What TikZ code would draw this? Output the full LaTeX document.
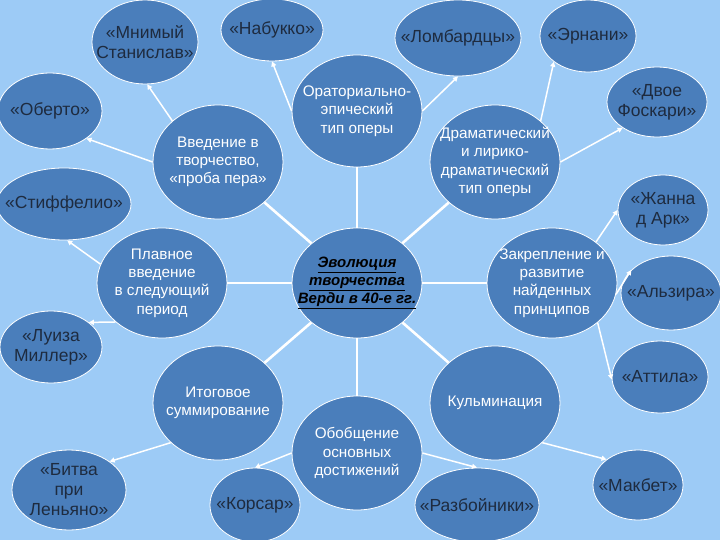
\documentclass[tikz,border=0pt]{standalone}
\usepackage{fontspec}
\setmainfont{Liberation Sans}
\usetikzlibrary{shapes.geometric,arrows.meta}
\definecolor{bg}{HTML}{9DCBF6}
\definecolor{ellfill}{HTML}{4A7EBB}
\definecolor{optxt}{HTML}{1E2B3F}
\begin{document}
\begin{tikzpicture}[x=1pt,y=-1pt,
 ell/.style={ellipse, draw=white, line width=0.8pt, fill=ellfill, inner sep=0pt},
 optext/.style={text=optxt, font=\fontsize{17.5}{20}\selectfont, align=center, inner sep=0pt},
 cattext/.style={text=white, font=\fontsize{15.3}{18.3}\selectfont, align=center, inner sep=0pt},
 evotext/.style={text=black, font=\fontsize{15}{18}\bfseries\itshape\selectfont, align=center, inner sep=0pt},
 spoke/.style={draw=white, line width=2.6pt},
 arr/.style={draw=white, line width=1.5pt, -{Triangle[length=5pt,width=5pt]}},
]
\fill[bg] (0,0) rectangle (720,540);
\useasboundingbox (0,0) rectangle (720,540);

% operas
\node[ell, minimum width=106pt, minimum height=84pt, label={[optext]center:«Мнимый\\Станислав»}] (mnim) at (145,42) {};
\node[ell, minimum width=102pt, minimum height=62pt, label={[optext]center:«Набукко»}] (nab) at (272,30) {};
\node[ell, minimum width=104pt, minimum height=76pt, label={[optext]center:«Оберто»}] (obe) at (50,111) {};
\node[ell, minimum width=134pt, minimum height=72pt, label={[optext]center:«Стиффелио»}] (stif) at (64,204) {};
\node[ell, minimum width=126pt, minimum height=76pt, label={[optext]center:«Ломбардцы»}] (lomb) at (458,38) {};
\node[ell, minimum width=96pt, minimum height=72pt, label={[optext]center:«Эрнани»}] (ern) at (588,36) {};
\node[ell, minimum width=100pt, minimum height=70pt, label={[optext]center:«Двое\\Фоскари»}] (fosk) at (657,102) {};
\node[ell, minimum width=90pt, minimum height=70pt, label={[optext]center:«Жанна\\д Арк»}] (zhan) at (663,210) {};
\node[ell, minimum width=100pt, minimum height=74pt, label={[optext]center:«Альзира»}] (alz) at (671,293) {};
\node[ell, minimum width=102pt, minimum height=72pt, label={[optext]center:«Луиза\\Миллер»}] (luiz) at (51,347) {};
\node[ell, minimum width=96pt, minimum height=72pt, label={[optext]center:«Аттила»}] (att) at (660,377) {};
\node[ell, minimum width=114pt, minimum height=80pt, label={[optext]center:«Битва\\при\\Леньяно»}] (bitv) at (69,490) {};
\node[ell, minimum width=90pt, minimum height=74pt, label={[optext]center:«Корсар»}] (kors) at (255,505) {};
\node[ell, minimum width=124pt, minimum height=74pt, label={[optext]center:«Разбойники»}] (razb) at (477,505) {};
\node[ell, minimum width=90pt, minimum height=70pt, label={[optext]center:«Макбет»}] (makb) at (638,485) {};

% categories
\node[ell, minimum width=130pt, minimum height=114pt, label={[cattext]center:Введение в\\творчество,\\«проба пера»}] (vved) at (218,162) {};
\node[ell, minimum width=130pt, minimum height=112pt, label={[cattext]center:Ораториально-\\эпический\\тип оперы}] (orat) at (357,111) {};
\node[ell, minimum width=130pt, minimum height=114pt, label={[cattext]center:Драматический\\и лирико-\\драматический\\тип оперы}] (dram) at (495,162) {};
\node[ell, minimum width=130pt, minimum height=110pt, label={[cattext]center:Плавное\\введение\\в следующий\\период}] (plav) at (162,283) {};
\node[ell, minimum width=130pt, minimum height=110pt, label={[evotext]center:\underline{Эволюция}\\\underline{творчества}\\\underline{Верди в 40-е гг.}}] (evo) at (357,283) {};
\node[ell, minimum width=130pt, minimum height=110pt, label={[cattext]center:Закрепление и\\развитие\\найденных\\принципов}] (zakr) at (552,283) {};
\node[ell, minimum width=130pt, minimum height=114pt, label={[cattext]center:Итоговое\\суммирование}] (itog) at (218,403) {};
\node[ell, minimum width=130pt, minimum height=114pt, label={[cattext]center:Кульминация}] (kulm) at (495,403) {};
\node[ell, minimum width=130pt, minimum height=114pt, label={[cattext]center:Обобщение\\основных\\достижений}] (obob) at (357,453) {};

% spokes
\foreach \t in {vved,orat,dram,plav,zakr,itog,obob,kulm}
  \draw[spoke] (evo) -- (\t);

% arrows
\draw[arr] (vved.138) -- (mnim.273);
\draw[arr] (vved.180) -- (obe.323);
\draw[arr] (plav.163) -- (stif.275);
\draw[arr] (plav.220) -- (luiz.33);
\draw[arr] (itog.220) -- (bitv.35);
\draw[arr] (obob.180) -- (kors.90);
\draw[arr] (obob.0) -- (razb.90);
\draw[arr] (kulm.320) -- (makb.141);
\draw[arr] (zakr.319) -- (att.183);
\draw[arr] (zakr.350) -- (alz.150);
\draw[arr] (zakr.43) -- (zhan.180);
\draw[arr] (dram.0) -- (fosk.217);
\draw[arr] (dram.42) -- (ern.217);
\draw[arr] (orat.180) -- (nab.270);
\draw[arr] (orat.0) -- (lomb.270);
\end{tikzpicture}
\end{document}
